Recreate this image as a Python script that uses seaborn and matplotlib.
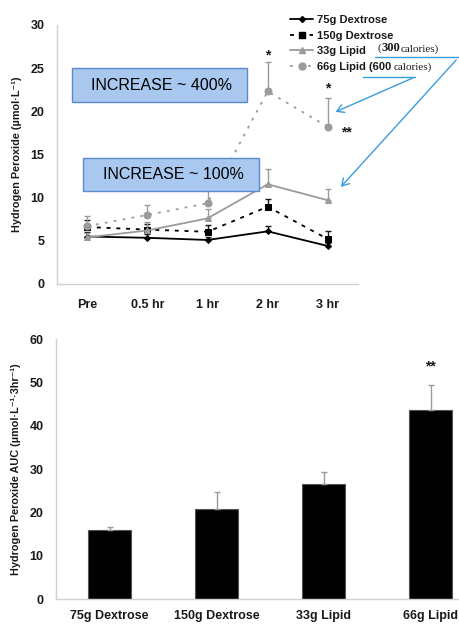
import numpy as np
import pandas as pd
import matplotlib
matplotlib.use("Agg")
import matplotlib.pyplot as plt
import seaborn as sns
from matplotlib.patches import Rectangle, FancyArrowPatch
from matplotlib.lines import Line2D

# ---------------- data ----------------
timepoints = ["Pre", "0.5 hr", "1 hr", "2 hr", "3 hr"]
dex75 = [5.5, 5.35, 5.1, 6.1, 4.4]
dex75_err = [0.5, 0.4, 0.4, 0.6, 0.3]
dex150 = [6.6, 6.3, 6.05, 8.95, 5.2]
dex150_err = [0.8, 0.7, 0.75, 0.9, 0.9]
lip33 = [5.4, 6.2, 7.6, 11.55, 9.7]
lip33_err = [0.5, 1.0, 1.05, 1.75, 1.3]
lip66 = [6.7, 8.0, 9.35, 22.3, 18.2]
lip66_err = [1.2, 1.2, 2.0, 3.4, 3.35]

groups = ["75g Dextrose", "150g Dextrose", "33g Lipid", "66g Lipid"]
auc = [16.0, 20.8, 26.5, 43.6]
auc_err = [0.7, 3.8, 2.7, 5.8]

series_labels = ["75g Dextrose", "150g Dextrose", "33g Lipid", "66g Lipid (600"]

# ---------------- style ----------------
sns.set_theme(style="white")
plt.rcParams["font.family"] = ["Liberation Sans", "DejaVu Sans"]
TXT = "#1a1a1a"
SPINE = "#d0d0d0"
GRAY = "#9b9b9b"
BLUE = "#3a9ddb"
TICKFS = 9

fig = plt.figure(figsize=(4.59, 6.24), dpi=100)

# ================= top chart =================
ax1 = fig.add_axes([57/459, 1-284/624, 301/459, 259/624])
x = np.arange(len(timepoints))

specs = [
    (dex75, dex75_err, "black", "-", "D", 3.0, TXT),
    (dex150, dex150_err, "black", (0, (2.2, 3.2)), "s", 5.0, TXT),
    (lip33, lip33_err, GRAY, "-", "^", 4.5, GRAY),
    (lip66, lip66_err, GRAY, (0, (1.5, 3.5)), "o", 5.0, GRAY),
]
handles = []
for (vals, errs, col, ls, mk, ms, ecol), lab in zip(specs, series_labels):
    df = pd.DataFrame({"t": x, "v": vals})
    sns.lineplot(data=df, x="t", y="v", ax=ax1, color=col, linestyle=ls,
                 marker=mk, markersize=ms, markeredgecolor=col, linewidth=1.3,
                 zorder=3)
    ax1.errorbar(x, vals, yerr=[np.zeros(len(vals)), errs], fmt="none",
                 ecolor=ecol, elinewidth=1.0, capsize=2, capthick=1.0, zorder=2)
    handles.append(Line2D([0], [0], color=col, linestyle=ls, marker=mk,
                          markersize=ms, markeredgecolor=col, linewidth=1.3))

ax1.set_xlim(-0.5, 4.5)
ax1.set_ylim(0, 30)
ax1.set_yticks([0, 5, 10, 15, 20, 25, 30])
ax1.set_xticks(x)
ax1.set_xticklabels(timepoints)
ax1.set_xticks(np.arange(-0.5, 5, 1.0), minor=True)
ax1.tick_params(axis="x", which="major", length=0, pad=11)
ax1.tick_params(axis="x", which="minor", length=4, color=SPINE, direction="out")
ax1.tick_params(axis="y", length=3, color=SPINE, direction="out", pad=6)
for lbl in ax1.get_xticklabels() + ax1.get_yticklabels():
    lbl.set_fontweight("bold"); lbl.set_fontsize(TICKFS); lbl.set_color(TXT)
ax1.set_xlabel("")
ax1.set_ylabel("Hydrogen Peroxide (µmol·L⁻¹)", fontsize=7.8, fontweight="bold",
               color=TXT, labelpad=6)
for s in ["top", "right"]:
    ax1.spines[s].set_visible(False)
for s in ["left", "bottom"]:
    ax1.spines[s].set_color(SPINE)
    ax1.spines[s].set_linewidth(1.0)

# significance stars
ax1.text(3, 26.5, "*", ha="center", va="center", fontsize=10, fontweight="bold", color=TXT)
ax1.text(4, 22.6, "*", ha="center", va="center", fontsize=10, fontweight="bold", color=TXT)
ax1.text(4.3, 17.6, "**", ha="center", va="center", fontsize=10, fontweight="bold", color=TXT)

leg = fig.legend(handles, series_labels, loc="upper left",
                 bbox_to_anchor=(290/459, 1-15/624), frameon=False,
                 prop={"weight": "bold", "size": 8}, handlelength=2.1,
                 handletextpad=0.35, labelspacing=0.5, borderpad=0,
                 borderaxespad=0)
for t in leg.get_texts():
    t.set_color(TXT)

# calorie annotations
fig.text(378/459, 1-48/624, "(", family="Liberation Serif", fontsize=8, va="center", color=TXT)
fig.text(381/459, 1-48/624, "300", family="Liberation Serif", fontsize=9,
         fontweight="bold", va="center", color=TXT)
fig.text(401/459, 1-49/624, "calories)", family="Liberation Serif", fontsize=8,
         va="center", color=TXT)
fig.text(394/459, 1-67/624, "calories)", family="Liberation Serif", fontsize=8,
         va="center", color=TXT)

# blue lines and arrows
fig.add_artist(Line2D([375/459, 459/459], [1-57/624, 1-57/624], color=BLUE, lw=1.0,
                      transform=fig.transFigure))
fig.add_artist(Line2D([363/459, 415/459], [1-77/624, 1-77/624], color=BLUE, lw=1.0,
                      transform=fig.transFigure))
fig.add_artist(FancyArrowPatch((458/459, 1-58/624), (339/459, 1-189/624),
                               transform=fig.transFigure, arrowstyle="->,head_length=5,head_width=3",
                               color=BLUE, lw=1.0))
fig.add_artist(FancyArrowPatch((415/459, 1-77/624), (333/459, 1-113/624),
                               transform=fig.transFigure, arrowstyle="->,head_length=5,head_width=3",
                               color=BLUE, lw=1.0))

# text boxes
for (x0, y0, x1, y1, txt) in [(72, 68, 247, 102, "INCREASE ~ 400%"),
                              (83, 158, 259, 191, "INCREASE ~ 100%")]:
    fig.add_artist(Rectangle((x0/459, 1-y1/624), (x1-x0)/459, (y1-y0)/624,
                             transform=fig.transFigure, facecolor="#a8c8ef",
                             edgecolor="#5a8acb", lw=1.0, zorder=5))
    fig.text((x0+x1)/2/459 + 2/459, 1-(y0+y1)/2/624, txt, ha="center", va="center",
             fontsize=11.5, color="black", zorder=6)

# ================= bottom chart =================
ax2 = fig.add_axes([56/459, 1-599/624, 428/459, 260/624])
dfb = pd.DataFrame({"group": groups, "auc": auc})
sns.barplot(data=dfb, x="group", y="auc", ax=ax2, color="black", width=0.41,
            edgecolor="#555555", linewidth=0.8, saturation=1)
ax2.errorbar(np.arange(len(groups)), auc, yerr=[np.zeros(len(auc)), auc_err],
             fmt="none", ecolor=GRAY, elinewidth=1.0, capsize=2, capthick=1.0)
ax2.set_xlim(-0.5, 3.5)
ax2.set_ylim(0, 60)
ax2.set_yticks([0, 10, 20, 30, 40, 50, 60])
ax2.set_xticks(np.arange(-0.5, 4, 1.0), minor=True)
ax2.tick_params(axis="x", which="major", length=0, pad=8)
ax2.tick_params(axis="x", which="minor", length=4, color=SPINE, direction="out")
ax2.tick_params(axis="y", length=3, color=SPINE, direction="out", pad=6)
for lbl in ax2.get_xticklabels() + ax2.get_yticklabels():
    lbl.set_fontweight("bold"); lbl.set_fontsize(TICKFS); lbl.set_color(TXT)
ax2.set_xlabel("")
ax2.set_ylabel("Hydrogen Peroxide AUC (µmol·L⁻¹·3hr⁻¹)", fontsize=7.8,
               fontweight="bold", color=TXT, labelpad=6)
for s in ["top", "right"]:
    ax2.spines[s].set_visible(False)
for s in ["left", "bottom"]:
    ax2.spines[s].set_color(SPINE)
    ax2.spines[s].set_linewidth(1.0)
ax2.text(3, 53.6, "**", ha="center", va="center", fontsize=10, fontweight="bold", color=TXT)

fig.savefig("out.png", dpi=100)
